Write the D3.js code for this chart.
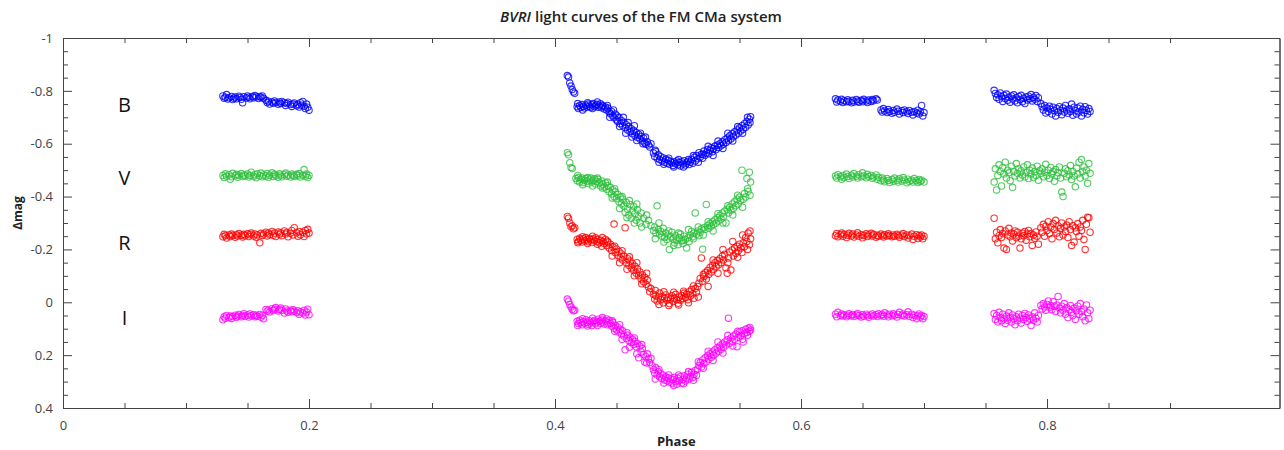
<!DOCTYPE html>
<html lang="en">
<head>
<meta charset="UTF-8">
<title>BVRI light curves</title>
<script src="https://d3js.org/d3.v7.min.js"></script>
<style>
  body { margin: 0; background: #fff; }
  text { font-family: "Open Sans", "Noto Sans", sans-serif; }
</style>
</head>
<body>
<div id="figure" style="width:1284px;height:450px"></div>
<script>
// [phase, delta mag], four observing runs per band
const B1 = [[.130,-.781],[.131,-.772],[.132,-.776],[.133,-.786],[.134,-.769],[.135,-.774],[.137,-.779],[.138,-.767],[.139,-.772],[.140,-.777],[.141,-.770],[.143,-.780],[.144,-.775],[.145,-.768],[.146,-.755],[.147,-.778],[.149,-.773],[.150,-.781],[.151,-.776],[.152,-.770],[.154,-.779],[.155,-.774],[.156,-.782],[.157,-.777],[.159,-.771],[.160,-.779],[.161,-.775],[.162,-.781],[.163,-.772],[.165,-.764],[.166,-.756],[.167,-.761],[.168,-.750],[.170,-.758],[.171,-.753],[.172,-.762],[.173,-.756],[.175,-.749],[.176,-.758],[.177,-.752],[.178,-.760],[.180,-.755],[.181,-.745],[.182,-.752],[.183,-.757],[.185,-.748],[.186,-.741],[.187,-.750],[.188,-.754],[.190,-.744],[.191,-.749],[.192,-.739],[.193,-.755],[.194,-.746],[.195,-.760],[.196,-.742],[.197,-.733],[.198,-.750],[.199,-.738],[.200,-.727]];
const B2 = [[.410,-.858],[.411,-.852],[.412,-.830],[.413,-.818],[.414,-.805],[.415,-.796],[.416,-.791],
  [.418,-.740],[.419,-.733],[.420,-.745],[.421,-.738],[.422,-.748],[.423,-.741],[.424,-.735],[.425,-.746],[.426,-.739],[.427,-.750],[.428,-.742],[.429,-.737],[.430,-.747],[.431,-.752],[.432,-.740],[.433,-.744],[.434,-.749],[.435,-.738],[.436,-.743],[.437,-.751],[.438,-.736],[.439,-.742],[.440,-.731],[.441,-.739],
  [.442,-.728],[.443,-.735],[.444,-.720],[.445,-.713],[.446,-.722],[.447,-.705],[.448,-.698],[.449,-.712],[.450,-.690],[.451,-.684],[.452,-.699],[.453,-.676],[.454,-.688],[.455,-.668],[.456,-.681],[.457,-.660],[.458,-.672],[.459,-.652],[.460,-.665],[.461,-.645],[.462,-.657],[.463,-.638],[.464,-.650],[.465,-.630],[.466,-.642],[.467,-.624],[.468,-.636],[.469,-.618],[.470,-.628],[.471,-.610],[.472,-.622],[.473,-.603],[.474,-.598],[.475,-.607],[.476,-.595],[.477,-.588],[.478,-.600],
  [.480,-.565],[.481,-.552],[.482,-.570],[.483,-.545],[.484,-.558],[.485,-.540],[.486,-.551],[.487,-.535],[.488,-.546],[.489,-.530],[.490,-.541],[.491,-.526],[.492,-.537],[.493,-.522],[.494,-.533],[.495,-.528],[.496,-.518],[.497,-.531],[.498,-.524],[.499,-.535],[.500,-.520],[.501,-.529],[.502,-.516],[.503,-.532],[.504,-.523],[.505,-.536],[.506,-.519],[.507,-.527],[.508,-.533],[.509,-.521],[.510,-.530],[.511,-.540],[.512,-.526],[.513,-.548],[.514,-.535],[.515,-.555],[.516,-.543],
  [.517,-.566],[.518,-.549],[.519,-.560],[.520,-.545],[.521,-.572],[.522,-.556],[.523,-.565],[.524,-.578],[.525,-.562],[.526,-.575],[.527,-.585],[.528,-.570],[.529,-.582],[.530,-.591],[.531,-.578],[.532,-.595],[.533,-.586],[.534,-.600],[.535,-.592],[.536,-.607],[.537,-.598],[.538,-.615],[.539,-.605],[.540,-.622],[.541,-.611],[.542,-.630],[.543,-.618],[.544,-.638],[.545,-.626],[.546,-.645],[.547,-.633],[.548,-.652],[.549,-.640],[.550,-.660],[.551,-.648],[.552,-.668],[.553,-.655],[.554,-.676],[.555,-.662],[.556,-.684],[.557,-.671],[.558,-.693],[.559,-.702]];
const B2b = [[.4185,-.752],[.4225,-.728],[.4265,-.755],[.4305,-.733],[.4345,-.758],[.4385,-.745],[.4425,-.745],[.4445,-.700],[.4475,-.728],[.4505,-.705],[.4525,-.665],[.4555,-.700],[.4575,-.640],[.4595,-.680],[.4625,-.625],[.4645,-.668],[.4665,-.612],[.4695,-.640],[.4715,-.600],[.4735,-.625],[.4815,-.575],[.4845,-.530],[.4885,-.522],[.4925,-.545],[.4965,-.512],[.5005,-.540],[.5045,-.512],[.5085,-.540],[.5125,-.555],[.5165,-.530],[.5205,-.560],[.5245,-.590],[.5285,-.555],[.5325,-.610],[.5365,-.582],[.5405,-.640],[.5445,-.610],[.5485,-.665],[.5525,-.640],[.5565,-.700],[.5585,-.680]];
const B3 = [[.628,-.770],[.629,-.758],[.630,-.765],[.632,-.761],[.633,-.768],[.634,-.756],[.635,-.763],[.637,-.759],[.638,-.766],[.639,-.760],[.641,-.755],[.642,-.764],[.643,-.758],[.645,-.767],[.646,-.761],[.647,-.757],[.649,-.764],[.650,-.759],[.651,-.768],[.653,-.762],[.654,-.756],[.655,-.765],[.657,-.760],[.658,-.767],[.659,-.763],[.661,-.770],[.662,-.765],
  [.665,-.728],[.666,-.720],[.667,-.733],[.668,-.724],[.670,-.718],[.671,-.729],[.672,-.722],[.674,-.715],[.675,-.726],[.676,-.719],[.678,-.731],[.679,-.723],[.680,-.712],[.682,-.725],[.683,-.718],[.684,-.728],[.686,-.721],[.687,-.714],[.688,-.726],[.690,-.719],[.691,-.709],[.692,-.722],[.694,-.716],[.695,-.727],[.696,-.712],[.697,-.720],[.698,-.745],[.699,-.705],[.700,-.718]];
const B4 = [[.757,-.802],[.758,-.790],[.759,-.775],[.760,-.785],[.761,-.768],[.762,-.792],[.763,-.778],[.764,-.760],[.765,-.783],[.766,-.771],[.767,-.788],[.768,-.764],[.769,-.776],[.770,-.757],[.771,-.781],[.772,-.769],[.773,-.785],[.774,-.762],[.775,-.774],[.776,-.755],[.777,-.779],[.778,-.767],[.779,-.783],[.780,-.759],[.781,-.772],[.782,-.752],[.783,-.777],[.784,-.765],[.785,-.780],[.786,-.770],[.787,-.786],[.788,-.762],[.789,-.775],[.790,-.768],[.791,-.782],[.792,-.760],[.793,-.774],
  [.795,-.752],[.796,-.740],[.797,-.728],[.798,-.745],[.799,-.716],[.800,-.735],[.801,-.722],[.802,-.742],[.803,-.730],[.804,-.712],[.805,-.738],[.806,-.725],[.807,-.705],[.808,-.733],[.809,-.719],[.810,-.740],[.811,-.726],[.812,-.710],[.813,-.735],[.814,-.720],[.815,-.745],[.816,-.728],[.817,-.715],[.818,-.732],[.819,-.722],[.820,-.750],[.821,-.708],[.822,-.738],[.823,-.725],[.824,-.712],[.825,-.735],[.826,-.720],[.827,-.742],[.828,-.705],[.829,-.730],[.830,-.717],[.831,-.740],[.832,-.726],[.833,-.712],[.834,-.733],[.835,-.722]];

const V1 = [[.130,-.480],[.131,-.472],[.132,-.486],[.133,-.477],[.135,-.483],[.136,-.466],[.137,-.475],[.138,-.488],[.140,-.479],[.141,-.484],[.142,-.473],[.143,-.481],[.145,-.487],[.146,-.476],[.147,-.482],[.148,-.478],[.150,-.485],[.151,-.474],[.152,-.480],[.153,-.492],[.155,-.477],[.156,-.483],[.157,-.471],[.158,-.486],[.160,-.479],[.161,-.489],[.162,-.475],[.163,-.482],[.165,-.478],[.166,-.487],[.167,-.473],[.168,-.481],[.170,-.490],[.171,-.476],[.172,-.484],[.173,-.479],[.175,-.473],[.176,-.486],[.177,-.481],[.178,-.475],[.180,-.483],[.181,-.489],[.182,-.477],[.183,-.482],[.185,-.474],[.186,-.485],[.187,-.480],[.188,-.476],[.190,-.484],[.191,-.479],[.192,-.487],[.193,-.474],[.195,-.481],[.196,-.502],[.197,-.477],[.198,-.485],[.199,-.472],[.200,-.480]];
const V2 = [[.410,-.566],[.411,-.558],[.412,-.528],[.413,-.510],[.414,-.506],
  [.417,-.468],[.418,-.460],[.419,-.472],[.420,-.455],[.421,-.465],[.422,-.470],[.423,-.452],[.424,-.462],[.425,-.468],[.426,-.458],[.427,-.449],[.428,-.463],[.429,-.470],[.430,-.455],[.431,-.461],[.432,-.467],[.433,-.448],[.434,-.458],[.435,-.465],[.436,-.452],[.437,-.440],[.438,-.459],[.439,-.447],[.440,-.436],
  [.441,-.452],[.442,-.428],[.443,-.441],[.444,-.418],[.445,-.435],[.446,-.410],[.447,-.425],[.448,-.400],[.449,-.418],[.450,-.392],[.451,-.408],[.452,-.380],[.453,-.398],[.454,-.372],[.455,-.390],[.456,-.364],[.457,-.340],[.458,-.378],[.459,-.352],[.460,-.330],[.461,-.370],[.462,-.318],[.463,-.345],[.464,-.362],[.465,-.335],[.466,-.310],[.467,-.350],[.468,-.325],[.469,-.300],[.470,-.338],[.472,-.318],[.474,-.295],[.476,-.310],[.478,-.290],
  [.480,-.272],[.481,-.285],[.482,-.262],[.483,-.365],[.484,-.275],[.485,-.258],[.486,-.268],[.487,-.250],[.488,-.280],[.489,-.245],[.490,-.262],[.491,-.238],[.492,-.255],[.493,-.200],[.494,-.248],[.495,-.265],[.496,-.240],[.497,-.225],[.498,-.252],[.499,-.235],[.500,-.218],[.501,-.245],[.502,-.258],[.503,-.232],[.504,-.222],[.505,-.250],[.506,-.238],[.507,-.205],[.508,-.244],[.509,-.230],[.510,-.255],[.511,-.268],[.512,-.248],[.513,-.262],[.514,-.338],[.515,-.257],[.516,-.270],[.517,-.252],[.518,-.265],[.519,-.278],
  [.520,-.201],[.521,-.282],[.522,-.275],[.523,-.370],[.524,-.290],[.525,-.280],[.526,-.298],[.527,-.288],[.528,-.305],[.529,-.295],[.530,-.312],[.531,-.300],[.532,-.320],[.533,-.308],[.534,-.328],[.535,-.315],[.536,-.338],[.537,-.325],[.538,-.345],[.539,-.300],[.540,-.352],[.541,-.338],[.542,-.360],[.543,-.348],[.544,-.372],[.545,-.355],[.546,-.380],[.547,-.365],[.548,-.390],[.549,-.372],[.550,-.398],[.551,-.385],[.552,-.500],[.553,-.390],[.554,-.412],[.555,-.398],[.556,-.468],[.557,-.420],[.558,-.492],[.559,-.455]];
const V2b = [[.4185,-.480],[.4225,-.445],[.4265,-.472],[.4305,-.440],[.4345,-.470],[.4385,-.432],[.4425,-.455],[.4465,-.395],[.4485,-.430],[.4525,-.355],[.4545,-.400],[.4585,-.320],[.4605,-.385],[.4645,-.300],[.4665,-.372],[.4705,-.285],[.4745,-.330],[.4815,-.240],[.4845,-.300],[.4885,-.228],[.4925,-.270],[.4965,-.215],[.5005,-.262],[.5045,-.235],[.5085,-.275],[.5125,-.240],[.5165,-.285],[.5205,-.255],[.5245,-.305],[.5285,-.270],[.5325,-.335],[.5365,-.300],[.5405,-.365],[.5445,-.330],[.5485,-.405],[.5525,-.360],[.5565,-.430],[.5585,-.405]];
const V3 = [[.628,-.478],[.629,-.470],[.630,-.483],[.632,-.475],[.633,-.466],[.634,-.480],[.635,-.472],[.637,-.485],[.638,-.476],[.639,-.468],[.641,-.481],[.642,-.474],[.643,-.487],[.645,-.477],[.646,-.470],[.647,-.483],[.649,-.475],[.650,-.490],[.651,-.478],[.653,-.471],[.654,-.484],[.655,-.476],[.657,-.480],[.658,-.469],[.659,-.474],[.661,-.482],[.662,-.466],[.663,-.473],[.665,-.460],[.666,-.470],[.667,-.463],[.668,-.456],[.670,-.468],[.671,-.461],[.672,-.453],[.674,-.465],[.675,-.458],[.676,-.470],[.678,-.462],[.679,-.455],[.680,-.467],[.682,-.459],[.683,-.472],[.684,-.463],[.686,-.452],[.687,-.466],[.688,-.458],[.690,-.462],[.691,-.455],[.692,-.468],[.694,-.460],[.695,-.453],[.696,-.465],[.697,-.457],[.698,-.462],[.700,-.455]];
const V4 = [[.757,-.455],[.758,-.505],[.759,-.425],[.760,-.480],[.761,-.520],[.762,-.495],[.763,-.440],[.764,-.510],[.765,-.485],[.766,-.530],[.767,-.470],[.768,-.500],[.769,-.490],[.770,-.460],[.771,-.515],[.772,-.435],[.773,-.495],[.774,-.478],[.775,-.525],[.776,-.488],[.777,-.505],[.778,-.470],[.779,-.498],[.780,-.482],[.781,-.512],[.782,-.475],[.783,-.492],[.784,-.520],[.785,-.468],[.786,-.500],[.787,-.485],[.788,-.508],[.789,-.472],[.790,-.495],[.791,-.480],[.792,-.515],[.793,-.462],[.794,-.498],[.795,-.488],[.796,-.505],[.797,-.475],[.798,-.492],[.799,-.522],[.800,-.480],[.801,-.500],[.802,-.468],[.803,-.510],[.804,-.485],[.805,-.495],[.806,-.458],[.807,-.502],[.808,-.478],[.809,-.490],[.810,-.512],[.811,-.470],[.812,-.417],[.813,-.400],[.814,-.488],[.815,-.505],[.816,-.475],[.817,-.498],[.818,-.482],[.819,-.518],[.820,-.465],[.821,-.495],[.822,-.478],[.823,-.437],[.824,-.508],[.825,-.485],[.826,-.530],[.827,-.470],[.828,-.540],[.829,-.495],[.830,-.512],[.831,-.478],[.832,-.500],[.833,-.450],[.834,-.525],[.835,-.488]];

const R1 = [[.130,-.248],[.131,-.257],[.132,-.252],[.133,-.243],[.135,-.255],[.136,-.249],[.137,-.258],[.138,-.253],[.140,-.246],[.141,-.256],[.142,-.251],[.143,-.260],[.145,-.254],[.146,-.247],[.147,-.257],[.148,-.252],[.150,-.259],[.151,-.249],[.152,-.256],[.153,-.262],[.155,-.251],[.156,-.258],[.157,-.246],[.158,-.255],[.160,-.225],[.161,-.261],[.162,-.253],[.163,-.258],[.165,-.265],[.166,-.251],[.167,-.262],[.168,-.256],[.170,-.268],[.171,-.254],[.172,-.262],[.173,-.249],[.175,-.266],[.176,-.257],[.177,-.263],[.178,-.252],[.180,-.270],[.181,-.258],[.182,-.264],[.183,-.248],[.185,-.261],[.186,-.272],[.187,-.255],[.188,-.282],[.190,-.263],[.191,-.250],[.192,-.268],[.193,-.256],[.195,-.265],[.196,-.249],[.197,-.272],[.198,-.259],[.199,-.276],[.200,-.262]];
const R2 = [[.410,-.325],[.411,-.318],[.412,-.300],[.413,-.286],[.414,-.290],[.415,-.278],[.416,-.282],
  [.418,-.238],[.419,-.230],[.420,-.242],[.421,-.235],[.422,-.228],[.423,-.240],[.424,-.233],[.425,-.245],[.426,-.237],[.427,-.229],[.428,-.241],[.429,-.236],[.430,-.226],[.431,-.239],[.432,-.233],[.433,-.244],[.434,-.230],[.435,-.238],[.436,-.225],[.437,-.235],[.438,-.212],[.439,-.230],[.440,-.222],[.441,-.238],
  [.442,-.215],[.443,-.228],[.444,-.205],[.445,-.220],[.446,-.196],[.447,-.210],[.448,-.296],[.449,-.188],[.450,-.202],[.451,-.178],[.452,-.192],[.453,-.168],[.454,-.183],[.455,-.160],[.456,-.175],[.457,-.282],[.458,-.150],[.459,-.165],[.460,-.140],[.461,-.156],[.462,-.130],[.463,-.146],[.464,-.120],[.465,-.136],[.466,-.110],[.467,-.126],[.468,-.100],[.469,-.115],[.470,-.088],[.471,-.104],[.472,-.078],[.473,-.094],[.474,-.068],[.475,-.084],[.476,-.058],[.477,-.040],[.478,-.052],
  [.480,-.030],[.481,-.012],[.482,-.025],[.483,-.005],[.484,-.020],[.485,-.035],[.486,-.010],[.487,-.022],[.488,.002],[.489,-.015],[.490,-.028],[.491,-.008],[.492,-.018],[.493,.005],[.494,-.012],[.495,-.025],[.496,-.003],[.497,-.016],[.498,-.030],[.499,-.010],[.500,.004],[.501,-.020],[.502,-.008],[.503,-.026],[.504,-.014],[.505,-.035],[.506,-.018],[.507,-.030],[.508,-.010],[.509,-.040],[.510,-.024],[.511,-.048],[.512,-.032],[.513,-.015],[.514,-.052],[.515,-.038],[.516,-.060],
  [.517,-.072],[.518,-.090],[.519,-.168],[.520,-.080],[.521,-.098],[.522,-.112],[.523,-.088],[.524,-.120],[.525,-.105],[.526,-.132],[.527,-.115],[.528,-.140],[.529,-.125],[.530,-.150],[.531,-.135],[.532,-.158],[.533,-.142],[.534,-.165],[.535,-.150],[.536,-.175],[.537,-.160],[.538,-.182],[.539,-.130],[.540,-.110],[.541,-.168],[.542,-.190],[.543,-.122],[.544,-.198],[.545,-.175],[.546,-.205],[.547,-.185],[.548,-.212],[.549,-.195],[.550,-.220],[.551,-.205],[.552,-.188],[.553,-.225],[.554,-.210],[.555,-.245],[.556,-.230],[.557,-.262],[.558,-.218],[.559,-.240]];
const R2b = [[.4185,-.225],[.4225,-.248],[.4265,-.222],[.4305,-.250],[.4345,-.220],[.4385,-.245],[.4425,-.232],[.4465,-.175],[.4485,-.212],[.4525,-.150],[.4545,-.195],[.4585,-.125],[.4605,-.172],[.4645,-.100],[.4665,-.150],[.4705,-.070],[.4745,-.110],[.4815,-.045],[.4845,.008],[.4885,-.040],[.4925,.012],[.4965,-.038],[.5005,.010],[.5045,-.042],[.5085,.002],[.5125,-.062],[.5165,-.020],[.5205,-.105],[.5245,-.060],[.5285,-.160],[.5325,-.110],[.5365,-.200],[.5405,-.150],[.5445,-.230],[.5485,-.170],[.5525,-.255],[.5565,-.200],[.5585,-.270]];
const R3 = [[.628,-.252],[.629,-.260],[.630,-.248],[.632,-.256],[.633,-.262],[.634,-.250],[.635,-.257],[.637,-.245],[.638,-.254],[.639,-.261],[.641,-.251],[.642,-.258],[.643,-.247],[.645,-.255],[.646,-.263],[.647,-.250],[.649,-.256],[.650,-.244],[.651,-.253],[.653,-.259],[.654,-.249],[.655,-.255],[.657,-.261],[.658,-.251],[.659,-.257],[.661,-.246],[.662,-.254],[.663,-.250],[.665,-.258],[.666,-.252],[.667,-.247],[.668,-.256],[.670,-.251],[.671,-.259],[.672,-.253],[.674,-.248],[.675,-.255],[.676,-.250],[.678,-.257],[.679,-.252],[.680,-.246],[.682,-.254],[.683,-.260],[.684,-.249],[.686,-.255],[.687,-.243],[.688,-.252],[.690,-.258],[.691,-.238],[.692,-.250],[.694,-.256],[.695,-.241],[.696,-.253],[.697,-.247],[.698,-.255],[.699,-.240],[.700,-.250]];
const R4 = [[.757,-.318],[.758,-.240],[.759,-.265],[.760,-.225],[.761,-.252],[.762,-.275],[.763,-.245],[.764,-.260],[.765,-.205],[.766,-.270],[.767,-.200],[.768,-.255],[.769,-.280],[.770,-.248],[.771,-.262],[.772,-.232],[.773,-.258],[.774,-.270],[.775,-.244],[.776,-.265],[.777,-.250],[.778,-.205],[.779,-.240],[.780,-.262],[.781,-.252],[.782,-.268],[.783,-.235],[.784,-.258],[.785,-.272],[.786,-.248],[.787,-.260],[.788,-.215],[.789,-.255],[.790,-.242],[.791,-.266],[.792,-.250],[.793,-.220],
  [.795,-.282],[.796,-.265],[.797,-.295],[.798,-.250],[.799,-.288],[.800,-.272],[.801,-.305],[.802,-.260],[.803,-.285],[.804,-.240],[.805,-.298],[.806,-.275],[.807,-.310],[.808,-.262],[.809,-.290],[.810,-.248],[.811,-.280],[.812,-.300],[.813,-.255],[.814,-.285],[.815,-.268],[.816,-.292],[.817,-.245],[.818,-.305],[.819,-.275],[.820,-.215],[.821,-.290],[.822,-.228],[.823,-.282],[.824,-.268],[.825,-.298],[.826,-.250],[.827,-.285],[.828,-.272],[.829,-.310],[.830,-.238],[.831,-.200],[.832,-.295],[.833,-.322],[.834,-.320],[.835,-.265]];

const I1 = [[.130,.066],[.131,.055],[.132,.060],[.133,.050],[.135,.058],[.136,.052],[.137,.061],[.138,.054],[.140,.049],[.141,.057],[.142,.052],[.143,.046],[.145,.055],[.146,.050],[.147,.043],[.148,.053],[.150,.048],[.151,.056],[.152,.044],[.153,.051],[.155,.047],[.156,.055],[.157,.049],[.158,.053],[.160,.046],[.161,.057],[.162,.050],[.163,.062],[.165,.027],[.166,.034],[.167,.029],[.168,.037],[.170,.024],[.171,.031],[.172,.026],[.173,.020],[.175,.033],[.176,.027],[.177,.022],[.178,.030],[.180,.041],[.181,.025],[.182,.033],[.183,.038],[.185,.030],[.186,.036],[.187,.028],[.188,.034],[.190,.039],[.191,.032],[.192,.045],[.193,.036],[.195,.041],[.196,.030],[.197,.048],[.198,.037],[.199,.026],[.200,.047]];
const I2 = [[.410,-.012],[.411,-.004],[.412,.008],[.413,.018],[.414,.026],[.415,.032],[.416,.030],
  [.418,.072],[.419,.080],[.420,.068],[.421,.077],[.422,.085],[.423,.073],[.424,.079],[.425,.066],[.426,.076],[.427,.083],[.428,.070],[.429,.078],[.430,.088],[.431,.074],[.432,.069],[.433,.081],[.434,.075],[.435,.064],[.436,.072],[.437,.079],[.438,.067],[.439,.075],[.440,.082],[.441,.070],[.442,.063],[.443,.077],[.444,.068],
  [.445,.080],[.446,.090],[.447,.076],[.448,.098],[.449,.087],[.450,.105],[.451,.094],[.452,.112],[.453,.102],[.454,.120],[.455,.108],[.456,.128],[.457,.180],[.458,.136],[.459,.124],[.460,.145],[.461,.132],[.462,.152],[.463,.140],[.464,.160],[.465,.148],[.466,.168],[.467,.156],[.468,.210],[.469,.165],[.470,.188],[.471,.175],[.472,.198],[.473,.226],[.474,.206],[.475,.195],[.476,.215],[.477,.228],[.478,.212],[.479,.240],
  [.480,.255],[.481,.268],[.482,.248],[.483,.275],[.484,.262],[.485,.282],[.486,.270],[.487,.288],[.488,.276],[.489,.294],[.490,.283],[.491,.298],[.492,.286],[.493,.302],[.494,.290],[.495,.306],[.496,.292],[.497,.284],[.498,.300],[.499,.310],[.500,.288],[.501,.296],[.502,.281],[.503,.305],[.504,.292],[.505,.278],[.506,.298],[.507,.286],[.508,.272],[.509,.290],[.510,.280],[.511,.265],[.512,.285],[.513,.272],[.514,.258],[.515,.276],[.516,.252],
  [.517,.240],[.518,.228],[.519,.245],[.520,.218],[.521,.232],[.522,.210],[.523,.225],[.524,.202],[.525,.215],[.526,.195],[.527,.208],[.528,.188],[.529,.200],[.530,.180],[.531,.192],[.532,.172],[.533,.185],[.534,.165],[.535,.178],[.536,.158],[.537,.170],[.538,.150],[.539,.162],[.540,.142],[.541,.060],[.542,.155],[.543,.135],[.544,.148],[.545,.128],[.546,.140],[.547,.120],[.548,.168],[.549,.132],[.550,.112],[.551,.126],[.552,.108],[.553,.150],[.554,.118],[.555,.102],[.556,.114],[.557,.098],[.558,.110],[.559,.105]];
const I2b = [[.4185,.088],[.4225,.062],[.4265,.090],[.4305,.060],[.4345,.088],[.4385,.058],[.4425,.085],[.4465,.070],[.4485,.110],[.4525,.085],[.4545,.140],[.4585,.115],[.4605,.170],[.4645,.135],[.4665,.195],[.4705,.160],[.4745,.230],[.4815,.290],[.4845,.255],[.4885,.305],[.4925,.275],[.4965,.315],[.5005,.275],[.5045,.308],[.5085,.262],[.5125,.295],[.5165,.225],[.5205,.250],[.5245,.185],[.5285,.220],[.5325,.150],[.5365,.192],[.5405,.125],[.5445,.165],[.5485,.110],[.5525,.140],[.5565,.125],[.5585,.095]];
const I3 = [[.628,.045],[.629,.055],[.630,.038],[.632,.050],[.633,.044],[.634,.052],[.635,.047],[.637,.055],[.638,.049],[.639,.043],[.641,.051],[.642,.046],[.643,.054],[.645,.048],[.646,.042],[.647,.050],[.649,.056],[.650,.047],[.651,.053],[.653,.045],[.654,.051],[.655,.057],[.657,.049],[.658,.044],[.659,.052],[.661,.047],[.662,.054],[.663,.043],[.665,.050],[.666,.046],[.667,.053],[.668,.040],[.670,.048],[.671,.055],[.672,.045],[.674,.051],[.675,.043],[.676,.049],[.678,.056],[.679,.046],[.680,.038],[.682,.050],[.683,.044],[.684,.052],[.686,.047],[.687,.036],[.688,.053],[.690,.045],[.691,.058],[.692,.049],[.694,.062],[.695,.051],[.696,.044],[.697,.057],[.698,.050],[.699,.062],[.700,.054]];
const I4 = [[.757,.042],[.758,.065],[.759,.050],[.760,.075],[.761,.038],[.762,.058],[.763,.070],[.764,.045],[.765,.062],[.766,.080],[.767,.052],[.768,.068],[.769,.040],[.770,.058],[.771,.075],[.772,.048],[.773,.062],[.774,.085],[.775,.055],[.776,.070],[.777,.045],[.778,.060],[.779,.078],[.780,.050],[.781,.065],[.782,.042],[.783,.058],[.784,.072],[.785,.048],[.786,.062],[.787,.088],[.788,.055],[.789,.068],[.790,.040],[.791,.060],[.792,.075],[.793,.050],
  [.795,.012],[.796,.025],[.797,.005],[.798,.018],[.799,.030],[.800,.008],[.801,-.005],[.802,.020],[.803,.012],[.804,.028],[.805,-.002],[.806,.015],[.807,.035],[.808,.010],[.809,-.022],[.810,.022],[.811,.040],[.812,.015],[.813,.030],[.814,.005],[.815,.045],[.816,.020],[.817,.058],[.818,.028],[.819,.012],[.820,.038],[.821,.050],[.822,.022],[.823,.065],[.824,.032],[.825,.015],[.826,.045],[.827,.005],[.828,.035],[.829,.055],[.830,.025],[.831,.070],[.832,.010],[.833,.040],[.834,.062],[.835,.030]];

const bandNames = ["B", "V", "R", "I"];
const bandColors = ["#0000ff", "#2cbf3c", "#ff0000", "#ff00ff"];
const bandLabelMag = [-0.747, -0.47, -0.224, 0.06];
const bandLabelPhase = 0.05;
const xMajor = [0, 0.2, 0.4, 0.6, 0.8];
const yMajor = [-1, -0.8, -0.6, -0.4, -0.2, 0, 0.2, 0.4];

const bands = [
    B1.concat(B2, B2b, B3, B4),
    V1.concat(V2, V2b, V3, V4),
    R1.concat(R2, R2b, R3, R4),
    I1.concat(I2, I2b, I3, I4)
];

let W = 1284, H = 450;
let padL = 63, padR = 1279.5, padT = 38, padB = 408;

let svg = d3.select("#figure").append("svg")
    .attr("width", W)
    .attr("height", H);

let x = d3.scaleLinear().domain([0, 0.989]).range([padL, padR]);
let y = d3.scaleLinear().domain([-1, 0.4]).range([padT, padB]);

let xMinor = d3.range(0, 19).map(i => i * 0.05).filter(v => !xMajor.some(m => Math.abs(m - v) < 1e-6));
let yMinor = d3.range(0, 29).map(i => -1 + i * 0.05).filter(v => !yMajor.some(m => Math.abs(m - v) < 1e-6));

function styleAxis(g) {
    g.selectAll("path, line").attr("stroke", "#444");
    g.selectAll("text").attr("fill", "#444").style("font-size", "13px");
}

// bottom axis
svg.append("g").attr("transform", `translate(0,${padB})`)
    .call(d3.axisBottom(x).tickValues(xMajor).tickSize(-9).tickSizeOuter(0).tickPadding(13).tickFormat(d => String(d)))
    .call(styleAxis);
svg.append("g").attr("transform", `translate(0,${padB})`)
    .call(d3.axisBottom(x).tickValues(xMinor).tickSize(-5).tickSizeOuter(0).tickFormat(""))
    .call(styleAxis);
// top axis
svg.append("g").attr("transform", `translate(0,${padT})`)
    .call(d3.axisTop(x).tickValues(xMajor).tickSize(-9).tickSizeOuter(0).tickFormat(""))
    .call(styleAxis);
svg.append("g").attr("transform", `translate(0,${padT})`)
    .call(d3.axisTop(x).tickValues(xMinor).tickSize(-5).tickSizeOuter(0).tickFormat(""))
    .call(styleAxis);
// left axis
svg.append("g").attr("transform", `translate(${padL},0)`)
    .call(d3.axisLeft(y).tickValues(yMajor).tickSize(-9).tickSizeOuter(0).tickPadding(10).tickFormat(d => String(d)))
    .call(styleAxis);
svg.append("g").attr("transform", `translate(${padL},0)`)
    .call(d3.axisLeft(y).tickValues(yMinor).tickSize(-5).tickSizeOuter(0).tickFormat(""))
    .call(styleAxis);
// right axis
svg.append("g").attr("transform", `translate(${padR},0)`)
    .call(d3.axisRight(y).tickValues(yMajor).tickSize(-9).tickSizeOuter(0).tickFormat(""))
    .call(styleAxis);
svg.append("g").attr("transform", `translate(${padR},0)`)
    .call(d3.axisRight(y).tickValues(yMinor).tickSize(-5).tickSizeOuter(0).tickFormat(""))
    .call(styleAxis);

// points
bands.forEach((pts, i) => {
    svg.append("g")
        .selectAll("circle")
        .data(pts)
        .join("circle")
        .attr("cx", d => x(d[0]))
        .attr("cy", d => y(d[1]))
        .attr("r", 3.2)
        .attr("fill", "none")
        .attr("stroke", bandColors[i])
        .attr("stroke-width", 1.1)
        .attr("stroke-opacity", 0.8);
});

// band labels
svg.append("g").selectAll("text")
    .data(bandNames)
    .join("text")
    .attr("x", x(bandLabelPhase))
    .attr("y", (d, i) => y(bandLabelMag[i]))
    .attr("dy", "0.36em")
    .attr("text-anchor", "middle")
    .style("font-size", "20px")
    .attr("fill", "#111")
    .text(d => d);

// title
let title = svg.append("text")
    .attr("x", 641)
    .attr("y", 22)
    .attr("text-anchor", "middle")
    .style("font-size", "15px")
    .style("font-weight", "600")
    .attr("fill", "#222");
title.append("tspan").style("font-style", "italic").text("BVRI");
title.append("tspan").text(" light curves of the FM CMa system");

// axis titles
svg.append("text")
    .attr("x", (padL + padR) / 2 + 5)
    .attr("y", 446)
    .attr("text-anchor", "middle")
    .style("font-size", "13px")
    .style("font-weight", "700")
    .attr("fill", "#222")
    .text("Phase");

svg.append("text")
    .attr("transform", "translate(22,213) rotate(-90)")
    .attr("text-anchor", "middle")
    .style("font-size", "12px")
    .style("font-weight", "700")
    .attr("fill", "#222")
    .text("Δmag");
</script>
</body>
</html>
